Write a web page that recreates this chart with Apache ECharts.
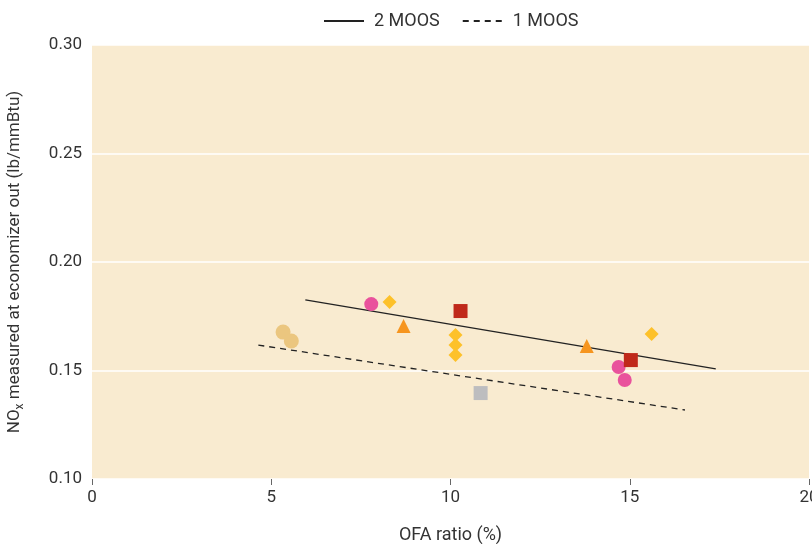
<!DOCTYPE html>
<html>
<head>
<meta charset="utf-8">
<script src="https://cdn.jsdelivr.net/npm/echarts@6/dist/echarts.min.js"></script>
<style>
  html, body { margin: 0; padding: 0; background: #fff; }
  #chart { width: 812px; height: 544px; }
</style>
</head>
<body>
<div id="chart"></div>
<script>
// OFA ratio (%) vs NOx
const tanCircles = [[5.33, 0.1677], [5.56, 0.1636]]
const pinkCircles = [[7.79, 0.1806], [14.69, 0.1516], [14.86, 0.1456]]
const yellowDiamonds = [[8.3, 0.1816], [10.14, 0.1664], [10.14, 0.1618], [10.14, 0.1571], [15.61, 0.1668]]
const orangeTriangles = [[8.69, 0.1705], [13.8, 0.1613]]
const redSquares = [[10.28, 0.1774], [15.03, 0.1548]]
const greySquares = [[10.84, 0.1396]]
// trend lines
const moos2 = [[5.95, 0.1825], [17.4, 0.1507]]
const moos1 = [[4.64, 0.1617], [16.54, 0.1318]]

const font = 'Roboto'
const chart = echarts.init(document.getElementById('chart'))

const scatter = (data, symbol, size, color) => ({
  type: 'scatter',
  data: data,
  symbol: symbol,
  symbolSize: size,
  itemStyle: { color: color, opacity: 1 },
  z: 3
})

chart.setOption({
  animation: false,
  textStyle: { fontFamily: font },
  grid: {
    left: 92, right: 3, top: 45, bottom: 65,
    outerBoundsMode: 'none',
    containLabel: false,
    show: true, backgroundColor: '#f9ebd0', borderWidth: 0
  },
  legend: {
    top: 7,
    left: 318,
    data: ['2 MOOS', '1 MOOS'],
    itemWidth: 40,
    itemHeight: 10,
    itemGap: 22,
    itemStyle: { opacity: 0 },
    textStyle: { fontSize: 18, color: '#333', fontFamily: font, padding: [0, 0, 0, 5] }
  },
  xAxis: {
    type: 'value',
    min: 0, max: 20, interval: 5,
    name: 'OFA ratio (%)',
    nameLocation: 'middle',
    nameGap: 47,
    nameTextStyle: { fontSize: 18, color: '#333' },
    axisLine: { show: false },
    axisTick: { show: true, length: 6, lineStyle: { color: '#666' } },
    axisLabel: { fontSize: 17, color: '#333', margin: 10 },
    splitLine: { show: false }
  },
  yAxis: {
    type: 'value',
    min: 0.1, max: 0.3, interval: 0.05,
    name: 'NO{sub|x} measured at economizer out (lb/mmBtu)',
    nameLocation: 'middle',
    nameGap: 66,
    nameTextStyle: {
      fontSize: 17, color: '#333',
      rich: { sub: { fontSize: 12, color: '#333', verticalAlign: 'bottom', padding: [10, 0, 0, 0] } }
    },
    axisLine: { show: false },
    axisTick: { show: false },
    axisLabel: { fontSize: 17, color: '#333', margin: 10, formatter: v => v.toFixed(2) },
    splitLine: { show: true, lineStyle: { color: '#fff', width: 1.5 } }
  },
  series: [
    {
      name: '2 MOOS', type: 'line', data: moos2, symbol: 'none',
      lineStyle: { color: '#222', width: 1.3, type: 'solid' }, itemStyle: { color: '#222' }, z: 2
    },
    {
      name: '1 MOOS', type: 'line', data: moos1, symbol: 'none',
      lineStyle: { color: '#222', width: 1.3, type: [6, 5] }, itemStyle: { color: '#222' }, z: 2
    },
    scatter(tanCircles, 'circle', 15, '#ebc67f'),
    scatter(pinkCircles, 'circle', 14, '#e9529c'),
    scatter(yellowDiamonds, 'diamond', 14, '#fdc12a'),
    scatter(orangeTriangles, 'triangle', 14, '#f6951f'),
    scatter(redSquares, 'rect', 14, '#c0291a'),
    scatter(greySquares, 'rect', 14, '#bdbdbf')
  ]
})
</script>
</body>
</html>
